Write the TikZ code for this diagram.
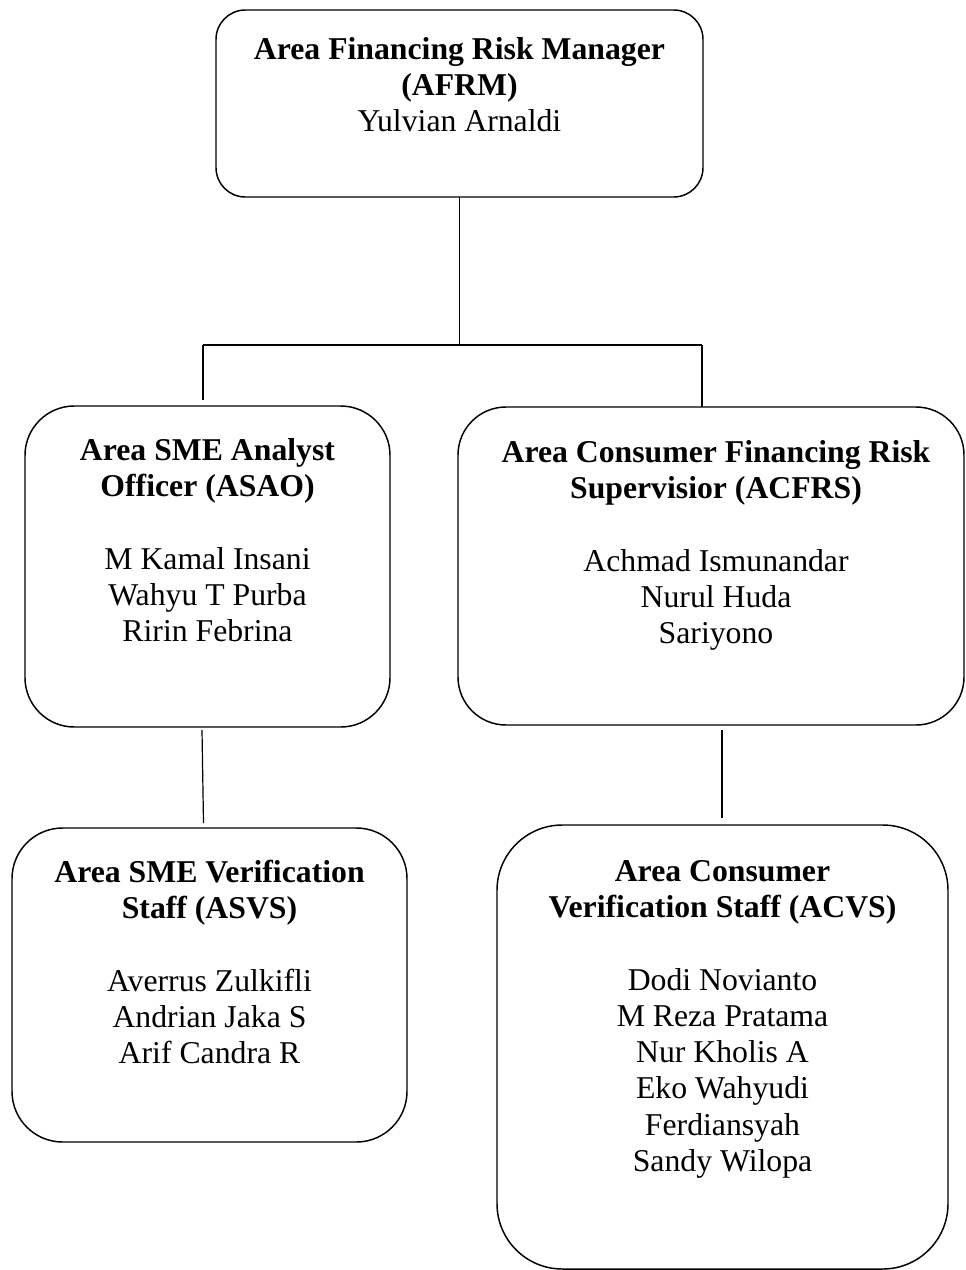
\documentclass[tikz,border=0pt]{standalone}
\usepackage{fontspec}
\setmainfont{Liberation Serif}
\begin{document}
\begin{tikzpicture}[x=0.75pt,y=-0.75pt,
  orgbox/.style={draw=black,line width=1.1pt,rounded corners=#1,inner sep=0pt,outer sep=0pt,fill=none},
  orgtext/.style={align=center,inner sep=0pt,outer sep=0pt,anchor=north,
     font=\fontsize{23.8pt}{27.2pt}\selectfont},
  link/.style={draw=black,line width=0.9pt}]
\useasboundingbox[fill=white] (0,0) rectangle (966,1270);

% boxes
\node[orgbox=22pt,minimum width=365.25pt,minimum height=140.25pt] (afrm) at (459.5,103.5) {};
\node[orgbox=37pt,minimum width=273.75pt,minimum height=240.75pt] (asao) at (207.5,566.5) {};
\node[orgbox=36pt,minimum width=379.5pt,minimum height=238.5pt] (acfrs) at (711,566) {};
\node[orgbox=38pt,minimum width=296.25pt,minimum height=235.5pt] (asvs) at (209.5,985) {};
\node[orgbox=49pt,minimum width=338.25pt,minimum height=333pt] (acvs) at (722.5,1047) {};

% texts
\node[orgtext] (afrmT) at (459.5,37.2) {\textbf{Area Financing Risk Manager}\\\textbf{(AFRM)}\\Yulvian Arnaldi};
\node[orgtext] (asaoT) at (207.5,438.2) {\textbf{Area SME Analyst}\\\textbf{Officer (ASAO)}\\[27.2pt]M Kamal Insani\\Wahyu T Purba\\Ririn Febrina};
\node[orgtext] (acfrsT) at (716,440.2) {\textbf{Area Consumer Financing Risk}\\\textbf{Supervisior (ACFRS)}\\[27.2pt]Achmad Ismunandar\\Nurul Huda\\Sariyono};
\node[orgtext] (asvsT) at (209.5,860.2) {\textbf{Area SME Verification}\\\textbf{Staff (ASVS)}\\[27.2pt]Averrus Zulkifli\\Andrian Jaka S\\Arif Candra R};
\node[orgtext] (acvsT) at (722.5,860.2) {\textbf{Area Consumer}\\\textbf{Verification Staff (ACVS)}\\[27.2pt]Dodi Novianto\\M Reza Pratama\\Nur Kholis A\\Eko Wahyudi\\Ferdiansyah\\Sandy Wilopa};

% connectors
\coordinate (hub) at (459.5,345);
\coordinate (lt) at (203,345);
\coordinate (rt) at (702,345);
\coordinate (lend) at (203,400);
\coordinate (sA) at (202,730);
\coordinate (sB) at (203.5,823);
\coordinate (cA) at (722,730);
\coordinate (cB) at (722,818);
\draw[link] (afrm.south) -- (hub);
\draw[link] (lt) -- (rt);
\draw[link] (lt) -- (lend);
\draw[link] (rt) -- (rt |- acfrs.north);
\draw[link] (sA) -- (sB);
\draw[link] (cA) -- (cB);
\end{tikzpicture}
\end{document}
